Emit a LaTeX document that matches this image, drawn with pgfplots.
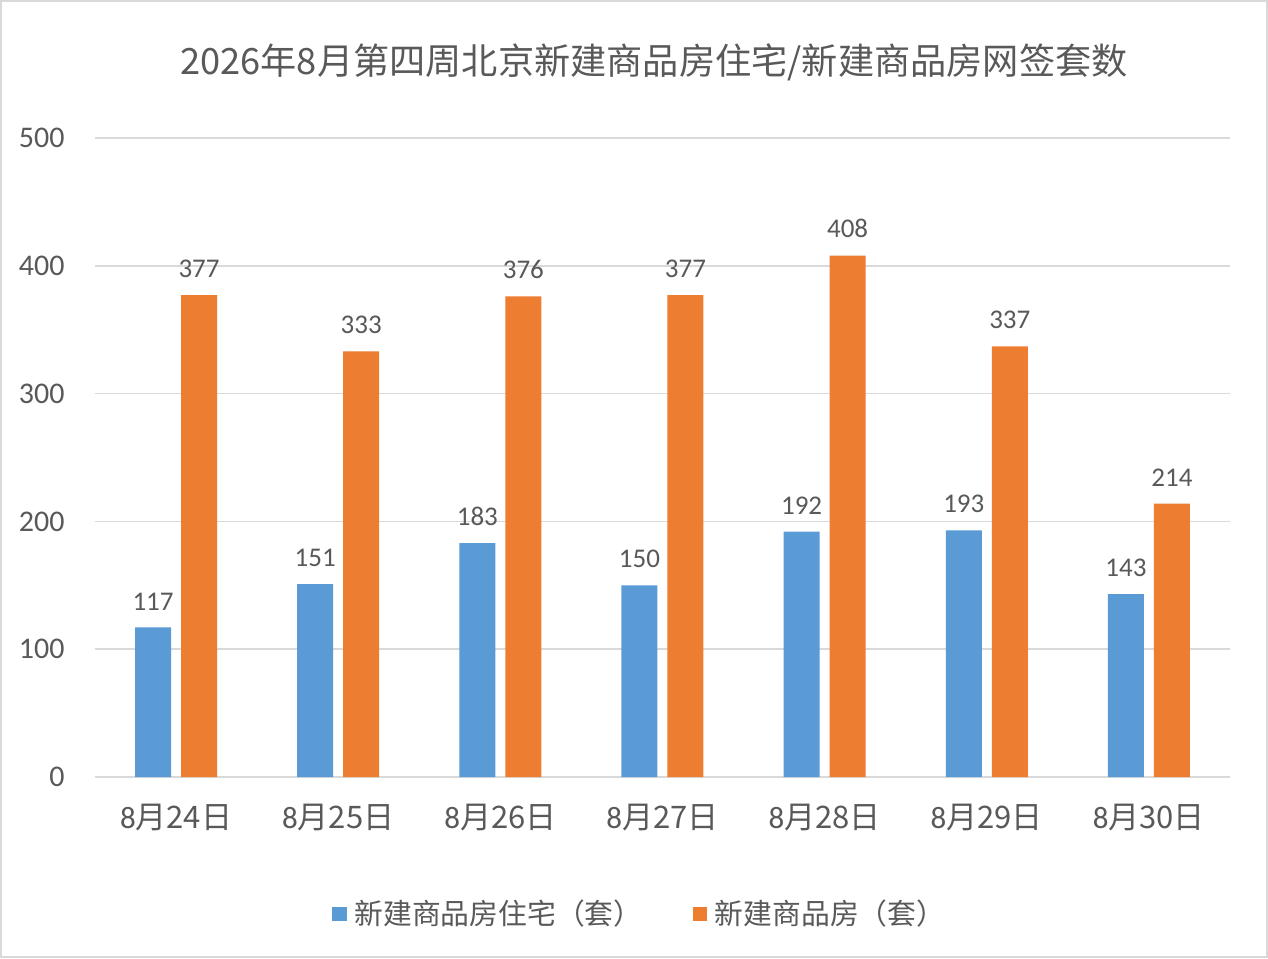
\documentclass[border=0pt]{standalone}
\usepackage{pgfplots}
\pgfplotsset{compat=1.18}
\usepackage{fontspec}
\setmainfont{Carlito}
\newfontfamily\cjk{Noto Sans CJK SC}
\definecolor{cblue}{HTML}{5B9BD5}
\definecolor{corange}{HTML}{ED7D31}
\definecolor{ctext}{HTML}{595959}
\definecolor{cgrid}{HTML}{D9D9D9}
\begin{document}
\begin{tikzpicture}
\useasboundingbox (0,0) rectangle (634pt,479pt);
\fill[white] (0,0) rectangle (634pt,479pt);
\draw[cgrid, line width=0.75pt] (0.5pt,0.5pt) rectangle (633.5pt,478.5pt);
\node[text=ctext, font=\cjk\fontsize{18.1pt}{20pt}\selectfont, inner sep=0pt] at (327pt,448pt) {2026年8月第四周北京新建商品房住宅/新建商品房网签套数};
\begin{axis}[
  at={(47.5pt,90.5pt)}, anchor=south west,
  scale only axis, width=567.5pt, height=319.5pt,
  xmin=-0.5, xmax=6.5, ymin=0, ymax=500,
  ybar=5pt, bar width=18pt,
  xtick={0,...,6},
  xticklabels={8\cjk{月}24\cjk{日},8\cjk{月}25\cjk{日},8\cjk{月}26\cjk{日},8\cjk{月}27\cjk{日},8\cjk{月}28\cjk{日},8\cjk{月}29\cjk{日},8\cjk{月}30\cjk{日}},
  ytick={0,100,200,300,400,500},
  /pgf/number format/assume math mode=true,
  major tick length=0pt,
  axis line style={draw=none},
  ymajorgrids, grid style={cgrid, line width=0.75pt},
  tick label style={text=ctext},
  xticklabel style={anchor=center, inner sep=0pt, yshift=-20.5pt, font=\fontsize{15.5pt}{17pt}\selectfont},
  yticklabel style={anchor=east, inner sep=0pt, xshift=-15pt, font=\fontsize{15pt}{17pt}\selectfont},
  nodes near coords,
  nodes near coords style={anchor=south, inner sep=0pt, yshift=8.5pt, text=ctext, font=\fontsize{13.5pt}{15pt}\selectfont},
  legend columns=2,
  legend style={at={(0.480,-0.2144)}, anchor=center, draw=none, fill=none,
    font=\cjk\fontsize{14.4pt}{16pt}\selectfont, text=ctext,
    /tikz/every odd column/.append style={column sep=3pt},
    /tikz/every even column/.append style={column sep=24pt},
    nodes={inner sep=1pt}},
]
\addplot[fill=cblue, draw=none, legend image code/.code={\fill[cblue] (0pt,-3.6pt) rectangle (7.2pt,3.6pt);}]
  coordinates {(0,117) (1,151) (2,183) (3,150) (4,192) (5,193) (6,143)};
\addplot[fill=corange, draw=none, legend image code/.code={\fill[corange] (0pt,-3.6pt) rectangle (7.2pt,3.6pt);}]
  coordinates {(0,377) (1,333) (2,376) (3,377) (4,408) (5,337) (6,214)};
\legend{新建商品房住宅（套）,新建商品房（套）}
\end{axis}
\end{tikzpicture}
\end{document}
